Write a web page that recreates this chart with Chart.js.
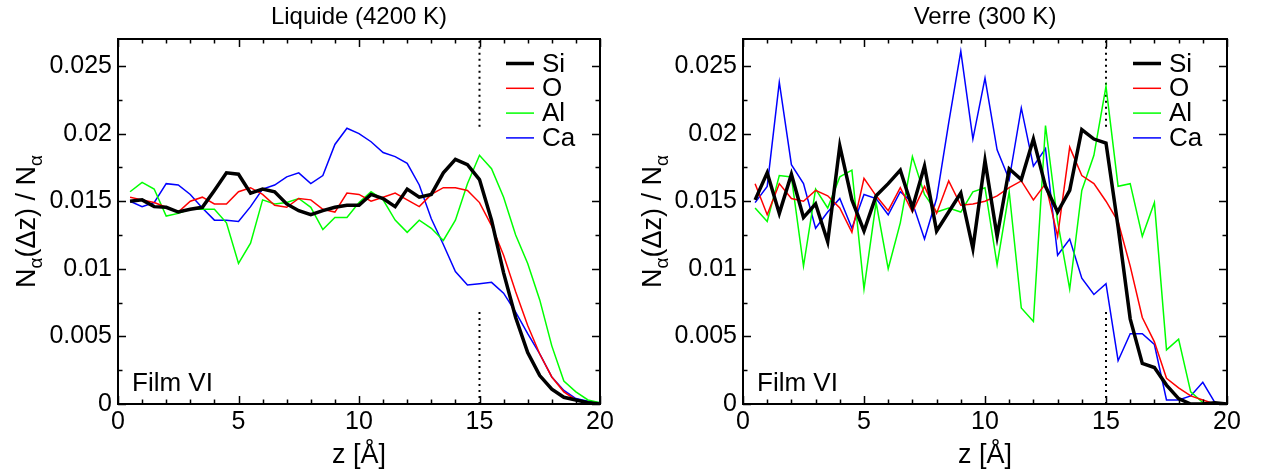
<!DOCTYPE html>
<html><head><meta charset="utf-8">
<script src="https://cdn.jsdelivr.net/npm/chart.js@4/dist/chart.umd.min.js"></script>
<style>
html,body{margin:0;padding:0;background:#fff;}
#wrap{position:relative;width:1261px;height:471px;overflow:hidden;background:#fff;}
canvas{position:absolute;top:0;}
</style></head><body>
<div id="wrap">
<canvas id="c1" width="630" height="471" style="left:0px"></canvas>
<canvas id="c2" width="636" height="471" style="left:625px"></canvas>
</div>
<script>
// ---- data ----
const z = [0.5,1,1.5,2,2.5,3,3.5,4,4.5,5,5.5,6,6.5,7,7.5,8,8.5,9,9.5,10,
           10.5,11,11.5,12,12.5,13,13.5,14,14.5,15,15.5,16,16.5,17,17.5,18,18.5,19,19.5,20];

const liqSi = [0.0150,0.0151,0.0146,0.01455,0.0142,0.0144,0.01455,0.0158,0.0171,0.0170,
               0.0156,0.0159,0.0157,0.0148,0.0143,0.0140,0.0143,0.01455,0.0147,0.0147,
               0.0155,0.0152,0.0146,0.0159,0.0153,0.0155,0.0171,0.0181,0.0177,0.0166,
               0.0136,0.0097,0.0064,0.0038,0.0021,0.0011,0.0005,0.0003,0.0001,0.0];
const liqO  = [0.0153,0.0151,0.0149,0.01455,0.0142,0.0150,0.0153,0.0148,0.0148,0.0157,
               0.0160,0.0155,0.0147,0.01455,0.0152,0.0151,0.0144,0.0142,0.0156,0.0155,
               0.0150,0.0153,0.0156,0.0151,0.0146,0.0155,0.0160,0.0160,0.0158,0.0149,
               0.0132,0.0110,0.0083,0.0058,0.0037,0.0020,0.0009,0.0003,0.0001,0.0];
const liqAl = [0.0157,0.0164,0.0159,0.0139,0.0141,0.0144,0.0144,0.0144,0.0134,0.0104,
               0.0119,0.0151,0.0148,0.0149,0.0152,0.01455,0.0129,0.0138,0.0138,0.0149,
               0.0157,0.0151,0.0136,0.0127,0.0136,0.0130,0.0121,0.0136,0.0163,0.0184,
               0.0174,0.0153,0.0125,0.0104,0.0077,0.0043,0.0017,0.0009,0.0003,0.0001];
const liqCa = [0.0150,0.0146,0.0149,0.0163,0.0162,0.0155,0.0145,0.0136,0.0136,0.0135,
               0.0146,0.0159,0.0162,0.0168,0.0171,0.0163,0.0169,0.0192,0.0204,0.0200,
               0.0194,0.0186,0.0183,0.0178,0.0162,0.0137,0.0118,0.0098,0.0088,0.0089,
               0.0090,0.0082,0.0068,0.0052,0.0037,0.0020,0.0010,0.0004,0.0002,0.0001];

const glaSi = [0.0151,0.0171,0.0141,0.0170,0.0138,0.0148,0.0120,0.0191,0.0151,0.0128,
               0.0154,0.0163,0.0173,0.0145,0.0176,0.0128,0.0142,0.0156,0.0115,0.0180,
               0.0124,0.0174,0.0166,0.0196,0.0161,0.0142,0.0158,0.0203,0.0196,0.0193,
               0.0131,0.0063,0.0030,0.0027,0.0014,0.0004,0.0,0.0,0.0001,0.0];
const glaO  = [0.0163,0.0140,0.0163,0.0152,0.0150,0.0158,0.0154,0.0145,0.0127,0.0167,
               0.0154,0.0143,0.0160,0.0142,0.0161,0.0141,0.0165,0.0147,0.0148,0.0150,
               0.0154,0.0160,0.0165,0.0151,0.0163,0.0124,0.0190,0.0169,0.0163,0.0150,
               0.0135,0.0102,0.0064,0.0046,0.0019,0.0012,0.0006,0.0003,0.0,0.0];
const glaAl = [0.0145,0.0135,0.0169,0.0168,0.0102,0.0159,0.0145,0.0168,0.0173,0.0085,
               0.0149,0.0100,0.0134,0.0183,0.0155,0.0142,0.0145,0.0142,0.0157,0.0160,
               0.0103,0.0157,0.0071,0.0061,0.0206,0.0135,0.0085,0.0158,0.0184,0.0235,
               0.0161,0.0163,0.0124,0.0149,0.0040,0.0048,0.0009,0.0001,0.0,0.0];
const glaCa = [0.0149,0.0161,0.0238,0.0177,0.0163,0.0130,0.0142,0.0152,0.0130,0.0155,
               0.0152,0.0140,0.0157,0.0149,0.0122,0.0152,0.0208,0.0261,0.0196,0.0241,
               0.0188,0.0166,0.0219,0.0176,0.0189,0.0110,0.0122,0.0093,0.0081,0.0089,
               0.0032,0.0052,0.0052,0.0044,0.0003,0.0003,0.0006,0.0016,0.0001,0.0];

const seriesNames = ['Si','O','Al','Ca'];
const markerZ = 15;
const dotLow = [0, 0.0068];
const dotHigh = [0.0205, 0.027];
const xTickLabels = [0,5,10,15,20];
const yTickLabels = [0,0.005,0.01,0.015,0.02,0.025];

// ---- drawing ----
const FONT = "'Liberation Sans', Arial, Helvetica, sans-serif";
const COLORS = ['#000000','#ff0000','#00ff00','#0000ff'];
const WIDTHS = [3.5,1.5,1.5,1.5];

const framePlugin = {
  id: 'frameTicks',
  afterDatasetsDraw(chart) {
    const {ctx, chartArea: a, scales: {x, y}} = chart;
    ctx.save();
    ctx.strokeStyle = '#000';
    ctx.lineWidth = 2;
    ctx.strokeRect(a.left, a.top, a.right - a.left, a.bottom - a.top);
    ctx.lineWidth = 1.5;
    ctx.beginPath();
    for (let v = 0; v <= 20; v += 1) {
      const px = Math.round(x.getPixelForValue(v)) + 0.5;
      const L = (v % 5 === 0) ? 8 : 4.5;
      ctx.moveTo(px, a.bottom); ctx.lineTo(px, a.bottom - L);
      ctx.moveTo(px, a.top); ctx.lineTo(px, a.top + L);
    }
    for (let i = 0; i <= 10; i++) {
      const v = i * 0.0025;
      const py = Math.round(y.getPixelForValue(v)) + 0.5;
      const L = (i % 2 === 0) ? 8 : 4.5;
      ctx.moveTo(a.left, py); ctx.lineTo(a.left + L, py);
      ctx.moveTo(a.right, py); ctx.lineTo(a.right - L, py);
    }
    ctx.stroke();
    ctx.restore();
  },
  afterDraw(chart, args, opts) {
    const {ctx, chartArea: a} = chart;
    const cx = (a.left + a.right) / 2;
    const cy = (a.top + a.bottom) / 2;
    ctx.save();
    ctx.fillStyle = '#000';
    // title
    ctx.font = '24px ' + FONT;
    ctx.textAlign = 'center';
    ctx.textBaseline = 'alphabetic';
    ctx.fillText(opts.title, cx, 24);
    // x title
    ctx.font = '27px ' + FONT;
    ctx.fillText('z [Å]', cx, 463);
    // y title with subscripts
    const big = '27px ' + FONT, small = '19px ' + FONT;
    const parts = [['N', big, 0], ['α', small, 7], ['(Δz) / N', big, 0], ['α', small, 7]];
    let total = 0;
    parts.forEach(p => { ctx.font = p[1]; total += ctx.measureText(p[0]).width; });
    ctx.translate(opts.yTitleX, cy);
    ctx.rotate(-Math.PI / 2);
    ctx.textAlign = 'left';
    let px = -total / 2;
    parts.forEach(p => { ctx.font = p[1]; ctx.fillText(p[0], px, p[2]); px += ctx.measureText(p[0]).width; });
    ctx.setTransform(1, 0, 0, 1, 0, 0);
    // legend
    ctx.font = '26px ' + FONT;
    ctx.textAlign = 'left';
    ctx.textBaseline = 'middle';
    seriesNames.forEach((n, i) => {
      const ly = a.top + 24.5 + i * 24.8;
      ctx.strokeStyle = COLORS[i];
      ctx.lineWidth = WIDTHS[i];
      ctx.beginPath();
      ctx.moveTo(a.right - 94, ly); ctx.lineTo(a.right - 66, ly);
      ctx.stroke();
      ctx.fillText(n, a.right - 58, ly + 1);
    });
    // Film VI
    ctx.textBaseline = 'alphabetic';
    ctx.fillText('Film VI', a.left + 14, a.bottom - 13);
    ctx.restore();
  }
};

function build(id, title, arrs, rightPad, yTitleX) {
  const pts = arr => z.map((v, i) => ({x: v, y: arr[i]}));
  const datasets = arrs.map((arr, i) => ({
    label: seriesNames[i], data: pts(arr), borderColor: COLORS[i], borderWidth: WIDTHS[i]
  }));
  datasets.push({label: 'mark1', data: dotLow.map(v => ({x: markerZ, y: v})), borderColor: '#000', borderWidth: 2, borderDash: [2, 4]});
  datasets.push({label: 'mark2', data: dotHigh.map(v => ({x: markerZ, y: v})), borderColor: '#000', borderWidth: 2, borderDash: [2, 4]});
  const tickFont = {family: FONT, size: 25};
  return new Chart(document.getElementById(id), {
    type: 'line',
    data: {datasets},
    options: {
      responsive: false,
      animation: false,
      events: [],
      layout: {padding: {left: 0, right: rightPad, top: 39, bottom: 0}},
      elements: {point: {radius: 0}, line: {tension: 0, fill: false}},
      plugins: {legend: {display: false}, title: {display: false}, tooltip: {enabled: false},
                frameTicks: {title, yTitleX}},
      scales: {
        x: {type: 'linear', min: 0, max: 20,
            afterBuildTicks: s => { s.ticks = xTickLabels.map(v => ({value: v})); },
            ticks: {font: tickFont, color: '#000', padding: 3, maxRotation: 0, autoSkip: false,
                    callback: v => String(v)},
            grid: {display: false, drawTicks: false}, border: {display: false},
            afterFit: s => { s.height = 67; }},
        y: {type: 'linear', min: 0, max: 0.027,
            afterBuildTicks: s => { s.ticks = yTickLabels.map(v => ({value: v})); },
            ticks: {font: tickFont, color: '#000', padding: 6, autoSkip: false,
                    callback: v => String(+v.toFixed(4))},
            grid: {display: false, drawTicks: false}, border: {display: false},
            afterFit: s => { s.width = 118; }}
      }
    },
    plugins: [framePlugin]
  });
}

build('c1', 'Liquide (4200 K)', [liqSi, liqO, liqAl, liqCa], 30, 35);
build('c2', 'Verre (300 K)', [glaSi, glaO, glaAl, glaCa], 34, 36);
</script>
</body></html>
